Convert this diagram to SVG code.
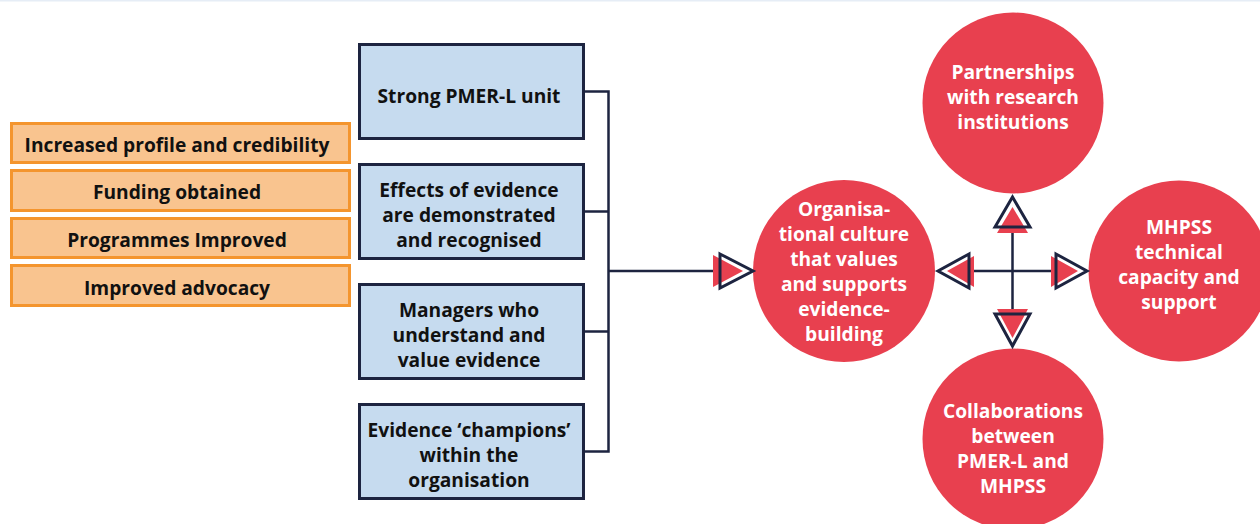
<svg xmlns="http://www.w3.org/2000/svg" width="1260" height="524" viewBox="0 0 1260 524">
<style>
text{font-family:"Open Sans","Noto Sans","Liberation Sans",sans-serif;font-weight:700;font-size:19.2px;text-anchor:middle}
.ob{fill:#f9c48f;stroke:#f4952e;stroke-width:3}
.ot{fill:#111}
.bb{fill:#c6dbef;stroke:#1d2440;stroke-width:3}
.bt{fill:#111}
.rc{fill:#e8404f}
.ct{fill:#fff}
.ln{stroke:#1d2440;stroke-width:2.5;fill:none}
.hr{fill:#e8404f}
.ho{fill:none;stroke:#1d2440;stroke-width:3;stroke-linejoin:miter}
</style>
<rect x="0" y="0" width="1260" height="1.5" fill="#e6edf6"/>

<g id="out1"><rect class="ob" x="11.5" y="123.5" width="338" height="39"/><text class="ot" x="177" y="152">Increased profile and credibility</text></g>
<g id="out2"><rect class="ob" x="11.5" y="170.5" width="338" height="40"/><text class="ot" x="177" y="199">Funding obtained</text></g>
<g id="out3"><rect class="ob" x="11.5" y="218.5" width="338" height="39"/><text class="ot" x="177" y="247">Programmes Improved</text></g>
<g id="out4"><rect class="ob" x="11.5" y="265.5" width="338" height="40"/><text class="ot" x="177" y="295">Improved advocacy</text></g>

<g id="b1"><rect class="bb" x="359.5" y="44.5" width="224" height="94"/><text class="bt" x="469" y="103">Strong PMER-L unit</text></g>
<g id="b2"><rect class="bb" x="359.5" y="164.5" width="224" height="94"/><text class="bt" x="469"><tspan x="469" y="197">Effects of evidence</tspan><tspan x="469" y="222">are demonstrated</tspan><tspan x="469" y="247">and recognised</tspan></text></g>
<g id="b3"><rect class="bb" x="359.5" y="284.5" width="224" height="94"/><text class="bt"><tspan x="469" y="317">Managers who</tspan><tspan x="469" y="342">understand and</tspan><tspan x="469" y="367">value evidence</tspan></text></g>
<g id="b4"><rect class="bb" x="359.5" y="404.5" width="224" height="94"/><text class="bt"><tspan x="469" y="437">Evidence ‘champions’</tspan><tspan x="469" y="462">within the</tspan><tspan x="469" y="487">organisation</tspan></text></g>

<g id="c-center"><circle class="rc" cx="844" cy="271" r="91"/><text class="ct"><tspan x="844" y="216">Organisa-</tspan><tspan x="844" y="241">tional culture</tspan><tspan x="844" y="266">that values</tspan><tspan x="844" y="291">and supports</tspan><tspan x="844" y="316">evidence-</tspan><tspan x="844" y="341">building</tspan></text></g>
<g id="c-top"><circle class="rc" cx="1013" cy="103" r="90.5"/><text class="ct"><tspan x="1013" y="79">Partnerships</tspan><tspan x="1013" y="104">with research</tspan><tspan x="1013" y="129">institutions</tspan></text></g>
<g id="c-right"><circle class="rc" cx="1179" cy="271" r="90.5"/><text class="ct"><tspan x="1179" y="234">MHPSS</tspan><tspan x="1179" y="259">technical</tspan><tspan x="1179" y="284">capacity and</tspan><tspan x="1179" y="309">support</tspan></text></g>
<g id="c-bottom"><circle class="rc" cx="1013" cy="439" r="90.5"/><text class="ct"><tspan x="1013" y="418">Collaborations</tspan><tspan x="1013" y="443">between</tspan><tspan x="1013" y="468">PMER-L and</tspan><tspan x="1013" y="493">MHPSS</tspan></text></g>

<g id="connectors">
<path class="ln" d="M585 91.5H608.5V451.5H585M585 211.5H608.5M585 331.5H608.5M608.5 271H719"/>
<polygon class="hr" points="713,255 743,271 713,287"/>
<polygon class="ho" points="720,254 753,271 720,288"/>
<path class="ln" d="M970 271H1056M1012.5 233V314"/>
<polygon class="hr" points="997,233 1012.5,207 1028,233"/>
<polygon class="ho" points="995,227 1012.5,197 1030,227"/>
<polygon class="hr" points="997,309 1012.5,338 1028,309"/>
<polygon class="ho" points="995,314 1012.5,346 1030,314"/>
<polygon class="hr" points="974,256 947,271 974,287"/>
<polygon class="ho" points="969,254 938,271 969,288"/>
<polygon class="hr" points="1051,256 1078,271 1051,287"/>
<polygon class="ho" points="1056,254 1087,271 1056,288"/>
</g>
</svg>
